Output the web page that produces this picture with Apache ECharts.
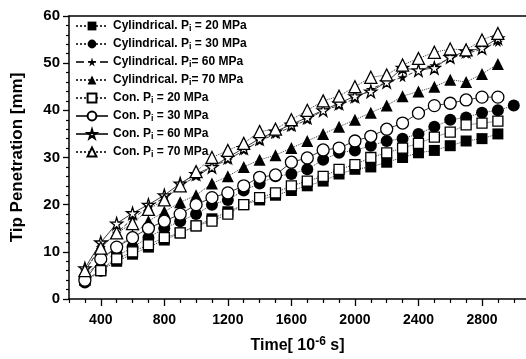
<!DOCTYPE html>
<html>
<head>
<meta charset="utf-8">
<script src="https://cdn.jsdelivr.net/npm/echarts@6/dist/echarts.min.js"></script>
<style>
  html, body { margin: 0; padding: 0; background: #fff; }
  #chart { width: 526px; height: 359px; }
</style>
</head>
<body>
<div id="chart"></div>
<script>
// time steps [10^-6 s]
var times = [300, 400, 500, 600, 700, 800, 900, 1000, 1100, 1200, 1300, 1400, 1500, 1600,
  1700, 1800, 1900, 2000, 2100, 2200, 2300, 2400, 2500, 2600, 2700, 2800, 2900];
var timesCyl30 = times.concat([3000]);

// tip penetration [mm]
var cyl20 = [4, 6, 8, 9.5, 11, 12.5, 14, 15.5, 17, 18.5, 20, 21, 22, 23, 24, 25, 26.5, 27.5,
  28, 29, 30, 31, 31.5, 32.5, 33.5, 34, 35];
var cyl30 = [3.5, 6, 9, 11, 13, 15, 16.5, 18, 20, 21, 23, 24.5, 26, 26.5, 27.5, 29.5, 31, 31.5,
  32.5, 33.5, 34, 35, 36.5, 38, 38.5, 39.5, 40, 41];
var cyl60 = [6, 11, 14, 17, 19.5, 21.5, 24, 26, 28, 29.5, 31.5, 33.5, 35, 36.5, 38, 40, 41,
  42.5, 44.5, 46, 47, 48.5, 49.5, 51, 52, 53, 54.5];
var cyl70 = [5, 8, 11, 13.5, 16.5, 18.5, 20.5, 22, 24.5, 26, 28, 29.5, 30.5, 32, 33.5, 35,
  36.5, 38, 39.5, 41, 43, 44, 45, 46.5, 46, 47.7, 49.8];
var con20 = [4, 6, 8.5, 10, 11.5, 13, 14, 15.5, 16.5, 18, 20, 21.5, 22.5, 24, 25, 26, 27.5,
  28.5, 30, 31, 32, 33, 34.3, 35.4, 36.9, 37.3, 37.7];
var con30 = [4, 8.5, 11, 13, 15, 16.5, 18, 20, 21.5, 22.5, 24, 25.8, 26.3, 29, 29.9, 31.6, 32,
  33.5, 34.5, 36, 37.3, 39.4, 41, 41.5, 42.2, 42.8, 42.8];
var con60 = [6.5, 12, 16, 18.2, 20, 22, 24.5, 26.5, 28, 30, 32, 34, 35.5, 37, 38.5, 40, 41.5,
  43, 44, 46, 49, 48.5, 49, 51.3, 52.5, 53.2, 55.3];
var con70 = [6, 10.8, 14, 16, 19, 21, 24, 27, 30, 31.5, 33, 35.5, 36, 38, 40, 42, 43, 45, 47,
  47.5, 49.6, 51, 52.3, 53, 52.8, 54.9, 56.3];

// axis ticks
var xLabelValues = [400, 800, 1200, 1600, 2000, 2400, 2800];
var xMinorValues = [200, 300, 500, 600, 700, 900, 1000, 1100, 1300, 1400, 1500, 1700, 1800,
  1900, 2100, 2200, 2300, 2500, 2600, 2700, 2900, 3000];

var font = 'Liberation Sans, Arial, sans-serif';
var star = 'path://M50,0 L61,35 L98,35 L68,57 L79,91 L50,70 L21,91 L32,57 L2,35 L39,35 Z';

function pairs(xs, ys) {
  return xs.map(function (t, i) { return [t, ys[i]]; });
}

function makeSeries(name, xs, ys, symbol, size, filled, lineType) {
  return {
    name: name,
    type: 'line',
    data: pairs(xs, ys),
    symbol: symbol,
    symbolSize: size,
    showSymbol: true,
    lineStyle: { color: '#3a3a3a', width: 1, type: lineType },
    itemStyle: {
      color: filled ? '#000' : '#fff',
      borderColor: '#000',
      borderWidth: filled ? 0 : 1.3
    },
    emphasis: { disabled: true },
    animation: false
  };
}

var chart = echarts.init(document.getElementById('chart'));

var option = {
  backgroundColor: '#fff',
  animation: false,
  grid: { left: 69, right: 0, top: 16, bottom: 60 },
  legend: {
    orient: 'vertical',
    left: 70,
    top: 14,
    itemWidth: 32,
    itemHeight: 11,
    itemGap: 4,
    selectedMode: false,
    formatter: function (name) { return name.replace('P_i', 'P{s|i}'); },
    textStyle: {
      fontFamily: font,
      fontSize: 12,
      fontWeight: 'bold',
      color: '#000',
      lineHeight: 14,
      rich: {
        s: { fontFamily: font, fontSize: 9, fontWeight: 'bold', color: '#000', verticalAlign: 'bottom', lineHeight: 14, padding: [4, 0, 0, 0] }
      }
    }
  },
  xAxis: [{
    type: 'value',
    min: 200,
    max: 3077,
    position: 'bottom',
    name: 'Time[ 10{sup|-6} s]',
    nameLocation: 'middle',
    nameGap: 37,
    nameTextStyle: {
      fontFamily: font, fontSize: 16, fontWeight: 'bold', color: '#000',
      rich: { sup: { fontFamily: font, fontSize: 12, fontWeight: 'bold', color: '#000', verticalAlign: 'top', padding: [0, 0, 8, 0] } }
    },
    axisLine: { show: true, lineStyle: { color: '#000', width: 1.5 } },
    axisTick: { show: true, length: 7, customValues: xLabelValues, lineStyle: { color: '#000', width: 1.3 } },
    axisLabel: {
      customValues: xLabelValues, margin: 14, fontFamily: font, fontSize: 14, fontWeight: 'bold', color: '#000',
      formatter: function (v) { return String(v); }
    },
    splitLine: { show: false }
  }, {
    type: 'value',
    min: 200,
    max: 3077,
    position: 'bottom',
    axisLine: { show: false },
    axisTick: { show: true, length: 4, customValues: xMinorValues, lineStyle: { color: '#000', width: 1.2 } },
    axisLabel: { show: false },
    splitLine: { show: false }
  }, {
    type: 'value',
    min: 200,
    max: 3077,
    position: 'top',
    axisLine: { show: true, lineStyle: { color: '#000', width: 1.5 } },
    axisTick: { show: false },
    axisLabel: { show: false },
    splitLine: { show: false }
  }],
  yAxis: [{
    type: 'value',
    min: 0,
    max: 60,
    interval: 10,
    name: 'Tip Penetration [mm]',
    nameLocation: 'middle',
    nameGap: 43,
    nameTextStyle: { fontFamily: font, fontSize: 17, fontWeight: 'bold', color: '#000' },
    axisLine: { show: true, lineStyle: { color: '#000', width: 1.5 } },
    axisTick: { show: true, length: 6, lineStyle: { color: '#000', width: 1.3 } },
    minorTick: { show: true, splitNumber: 5, length: 3, lineStyle: { color: '#000', width: 1.2 } },
    axisLabel: { margin: 9, fontFamily: font, fontSize: 15, fontWeight: 'bold', color: '#000' },
    splitLine: { show: false }
  }],
  series: [
    makeSeries('Cylindrical. P_i = 20 MPa', times, cyl20, 'rect', 11, true, 'dotted'),
    makeSeries('Cylindrical. P_i = 30 MPa', timesCyl30, cyl30, 'circle', 12, true, 'dotted'),
    makeSeries('Cylindrical. P_i= 60 MPa', times, cyl60, star, 10, true, 'dashed'),
    makeSeries('Cylindrical. P_i= 70 MPa', times, cyl70, 'triangle', 12, true, 'dotted'),
    makeSeries('Con. P_i = 20 MPa', times, con20, 'rect', 10, false, 'dotted'),
    makeSeries('Con. P_i = 30 MPa', times, con30, 'circle', 12, false, 'solid'),
    makeSeries('Con. P_i = 60 MPa', times, con60, star, 12, false, 'solid'),
    makeSeries('Con. P_i = 70 MPa', times, con70, 'triangle', 12, false, 'dotted')
  ]
};

chart.setOption(option);
</script>
</body>
</html>
